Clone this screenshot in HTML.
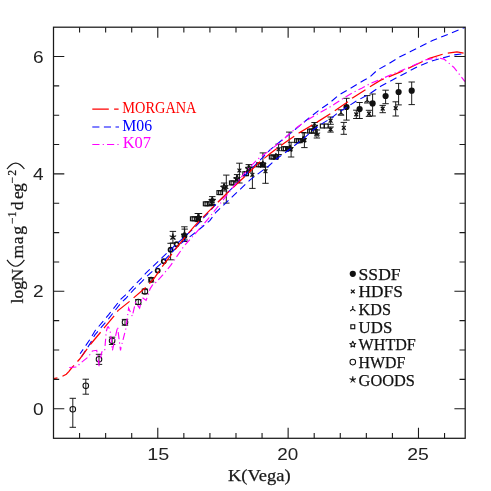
<!DOCTYPE html>
<html><head><meta charset="utf-8"><title>K-band number counts</title>
<style>
html,body{margin:0;padding:0;background:#fff;}
body{width:491px;height:491px;overflow:hidden;font-family:"Liberation Sans",sans-serif;}
svg{display:block;will-change:transform;}
</style></head><body>
<svg width="491" height="491" viewBox="0 0 491 491">
<rect width="491" height="491" fill="#ffffff"/>
<path d="M197.8 213.5V221.6M194.6 213.5H201.0M194.6 221.6H201.0" stroke="#111" stroke-width="0.95" fill="none"/>
<path d="M199.0 213.5V221.6M195.8 213.5H202.2M195.8 221.6H202.2" stroke="#111" stroke-width="0.95" fill="none"/>
<path d="M212.3 196.6V205.5M209.1 196.6H215.5M209.1 205.5H215.5" stroke="#111" stroke-width="0.95" fill="none"/>
<path d="M212.0 199.5V204.5M208.8 199.5H215.2M208.8 204.5H215.2" stroke="#111" stroke-width="0.95" fill="none"/>
<path d="M224.1 183.0V191.0M220.9 183.0H227.3M220.9 191.0H227.3" stroke="#111" stroke-width="0.95" fill="none"/>
<path d="M237.1 174.6V182.0M233.9 174.6H240.3M233.9 182.0H240.3" stroke="#111" stroke-width="0.95" fill="none"/>
<path d="M248.8 164.6V172.0M245.6 164.6H252.0M245.6 172.0H252.0" stroke="#111" stroke-width="0.95" fill="none"/>
<path d="M262.9 152.9V166.0M259.7 152.9H266.1M259.7 166.0H266.1" stroke="#111" stroke-width="0.95" fill="none"/>
<path d="M289.2 132.1V150.0M286.0 132.1H292.4M286.0 150.0H292.4" stroke="#111" stroke-width="0.95" fill="none"/>
<path d="M291.1 142.3V157.0M287.9 142.3H294.3M287.9 157.0H294.3" stroke="#111" stroke-width="0.95" fill="none"/>
<path d="M303.0 132.5V141.0M299.8 132.5H306.2M299.8 141.0H306.2" stroke="#111" stroke-width="0.95" fill="none"/>
<path d="M314.6 122.5V129.5M311.4 122.5H317.8M311.4 129.5H317.8" stroke="#111" stroke-width="0.95" fill="none"/>
<path d="M316.9 130.0V138.0M313.7 130.0H320.1M313.7 138.0H320.1" stroke="#111" stroke-width="0.95" fill="none"/>
<path d="M72.8 398.3V427.3M69.6 398.3H76.0M69.6 427.3H76.0" stroke="#111" stroke-width="0.95" fill="none"/>
<circle cx="72.8" cy="409.2" r="2.8" fill="none" stroke="#111" stroke-width="1.05"/>
<path d="M85.8 379.2V394.2M82.6 379.2H89.0M82.6 394.2H89.0" stroke="#111" stroke-width="0.95" fill="none"/>
<circle cx="85.8" cy="385.8" r="2.8" fill="none" stroke="#111" stroke-width="1.05"/>
<path d="M99.0 354.3V364.4M95.8 354.3H102.2M95.8 364.4H102.2" stroke="#111" stroke-width="0.95" fill="none"/>
<circle cx="99.0" cy="359.2" r="2.8" fill="none" stroke="#111" stroke-width="1.05"/>
<path d="M112.1 337.2V344.5M108.9 337.2H115.3M108.9 344.5H115.3" stroke="#111" stroke-width="0.95" fill="none"/>
<circle cx="112.1" cy="340.8" r="2.8" fill="none" stroke="#111" stroke-width="1.05"/>
<path d="M138.3 299.6V304.4M135.1 299.6H141.5M135.1 304.4H141.5" stroke="#111" stroke-width="0.95" fill="none"/>
<circle cx="138.3" cy="302.0" r="2.8" fill="none" stroke="#111" stroke-width="1.05"/>
<path d="M144.9 289.2V293.6M141.7 289.2H148.1M141.7 293.6H148.1" stroke="#111" stroke-width="0.95" fill="none"/>
<circle cx="144.9" cy="291.4" r="2.8" fill="none" stroke="#111" stroke-width="1.05"/>
<path d="M151.1 277.6V282.0M147.9 277.6H154.3M147.9 282.0H154.3" stroke="#111" stroke-width="0.95" fill="none"/>
<circle cx="151.1" cy="279.8" r="2.1" fill="none" stroke="#111" stroke-width="1.7"/>
<circle cx="157.7" cy="270.6" r="2.1" fill="none" stroke="#111" stroke-width="1.7"/>
<circle cx="163.8" cy="261.3" r="2.1" fill="none" stroke="#111" stroke-width="1.7"/>
<path d="M170.6 243.3V259.8M167.4 243.3H173.8M167.4 259.8H173.8" stroke="#111" stroke-width="0.95" fill="none"/>
<circle cx="170.6" cy="249.7" r="2.1" fill="none" stroke="#111" stroke-width="1.7"/>
<circle cx="176.6" cy="244.2" r="2.1" fill="none" stroke="#111" stroke-width="1.7"/>
<path d="M125.0 319.4V325.2M121.8 319.4H128.2M121.8 325.2H128.2" stroke="#111" stroke-width="0.95" fill="none"/>
<circle cx="125.0" cy="322.3" r="2.8" fill="none" stroke="#111" stroke-width="1.05"/>
<path d="M172.9 231.4V243.0M169.7 231.4H176.1M169.7 243.0H176.1" stroke="#111" stroke-width="0.95" fill="none"/>
<path d="M172.90 233.50L173.34 236.29L176.13 235.85L173.61 237.13L174.90 239.65L172.90 237.65L170.90 239.65L172.19 237.13L169.67 235.85L172.46 236.29Z" stroke="#111" stroke-width="0.6" fill="#111"/>
<path d="M172.90 237.50L172.90 234.50M172.90 237.50L170.29 239.40M172.90 237.50L175.51 239.40" stroke="#111" stroke-width="1.15" fill="none"/>
<circle cx="184.4" cy="236.0" r="2.1" fill="none" stroke="#111" stroke-width="1.7"/>
<path d="M184.4 226.8V241.5M181.2 226.8H187.6M181.2 241.5H187.6" stroke="#111" stroke-width="0.95" fill="none"/>
<path d="M184.40 231.90L185.28 233.79L187.35 234.04L185.83 235.46L186.22 237.51L184.40 236.50L182.58 237.51L182.97 235.46L181.45 234.04L183.52 233.79Z" stroke="#111" stroke-width="1.1" fill="none" stroke-linejoin="round"/>
<path d="M184.7 229.1V240.0M181.5 229.1H187.9M181.5 240.0H187.9" stroke="#111" stroke-width="0.95" fill="none"/>
<path d="M184.70 232.10L185.14 234.89L187.93 234.45L185.41 235.73L186.70 238.25L184.70 236.25L182.70 238.25L183.99 235.73L181.47 234.45L184.26 234.89Z" stroke="#111" stroke-width="0.6" fill="#111"/>
<rect x="190.45" y="216.85" width="3.9" height="3.9" fill="none" stroke="#111" stroke-width="1.15"/>
<rect x="192.15" y="216.85" width="3.9" height="3.9" fill="none" stroke="#111" stroke-width="1.15"/>
<rect x="196.25" y="216.85" width="3.9" height="3.9" fill="none" stroke="#111" stroke-width="1.15"/>
<path d="M198.60 214.50L199.48 216.39L201.55 216.64L200.03 218.06L200.42 220.11L198.60 219.10L196.78 220.11L197.17 218.06L195.65 216.64L197.72 216.39Z" stroke="#111" stroke-width="1.1" fill="none" stroke-linejoin="round"/>
<path d="M198.10 214.80L198.54 217.59L201.33 217.15L198.81 218.43L200.10 220.95L198.10 218.95L196.10 220.95L197.39 218.43L194.87 217.15L197.66 217.59Z" stroke="#111" stroke-width="0.6" fill="#111"/>
<rect x="203.35" y="201.85" width="3.9" height="3.9" fill="none" stroke="#111" stroke-width="1.15"/>
<rect x="205.05" y="201.85" width="3.9" height="3.9" fill="none" stroke="#111" stroke-width="1.15"/>
<rect x="207.65" y="201.85" width="3.9" height="3.9" fill="none" stroke="#111" stroke-width="1.15"/>
<path d="M212.40 197.20L213.28 199.09L215.35 199.34L213.83 200.76L214.22 202.81L212.40 201.80L210.58 202.81L210.97 200.76L209.45 199.34L211.52 199.09Z" stroke="#111" stroke-width="1.1" fill="none" stroke-linejoin="round"/>
<path d="M211.90 197.50L212.34 200.29L215.13 199.85L212.61 201.13L213.90 203.65L211.90 201.65L209.90 203.65L211.19 201.13L208.67 199.85L211.46 200.29Z" stroke="#111" stroke-width="0.6" fill="#111"/>
<rect x="216.95" y="190.65" width="3.9" height="3.9" fill="none" stroke="#111" stroke-width="1.15"/>
<rect x="218.65" y="190.65" width="3.9" height="3.9" fill="none" stroke="#111" stroke-width="1.15"/>
<path d="M224.10 183.80L224.98 185.69L227.05 185.94L225.53 187.36L225.92 189.41L224.10 188.40L222.28 189.41L222.67 187.36L221.15 185.94L223.22 185.69Z" stroke="#111" stroke-width="1.1" fill="none" stroke-linejoin="round"/>
<path d="M223.60 184.10L224.04 186.89L226.83 186.45L224.31 187.73L225.60 190.25L223.60 188.25L221.60 190.25L222.89 187.73L220.37 186.45L223.16 186.89Z" stroke="#111" stroke-width="0.6" fill="#111"/>
<rect x="229.45" y="180.95" width="3.9" height="3.9" fill="none" stroke="#111" stroke-width="1.15"/>
<rect x="231.05" y="180.95" width="3.9" height="3.9" fill="none" stroke="#111" stroke-width="1.15"/>
<path d="M237.10 175.30L237.98 177.19L240.05 177.44L238.53 178.86L238.92 180.91L237.10 179.90L235.28 180.91L235.67 178.86L234.15 177.44L236.22 177.19Z" stroke="#111" stroke-width="1.1" fill="none" stroke-linejoin="round"/>
<path d="M236.60 175.60L237.04 178.39L239.83 177.95L237.31 179.23L238.60 181.75L236.60 179.75L234.60 181.75L235.89 179.23L233.37 177.95L236.16 178.39Z" stroke="#111" stroke-width="0.6" fill="#111"/>
<rect x="242.85" y="171.75" width="3.9" height="3.9" fill="none" stroke="#111" stroke-width="1.15"/>
<rect x="244.55" y="171.75" width="3.9" height="3.9" fill="none" stroke="#111" stroke-width="1.15"/>
<path d="M248.80 165.10L249.68 166.99L251.75 167.24L250.23 168.66L250.62 170.71L248.80 169.70L246.98 170.71L247.37 168.66L245.85 167.24L247.92 166.99Z" stroke="#111" stroke-width="1.1" fill="none" stroke-linejoin="round"/>
<path d="M248.30 165.40L248.74 168.19L251.53 167.75L249.01 169.03L250.30 171.55L248.30 169.55L246.30 171.55L247.59 169.03L245.07 167.75L247.86 168.19Z" stroke="#111" stroke-width="0.6" fill="#111"/>
<rect x="256.55" y="162.85" width="3.9" height="3.9" fill="none" stroke="#111" stroke-width="1.15"/>
<rect x="258.25" y="162.85" width="3.9" height="3.9" fill="none" stroke="#111" stroke-width="1.15"/>
<rect x="261.25" y="162.85" width="3.9" height="3.9" fill="none" stroke="#111" stroke-width="1.15"/>
<path d="M262.90 161.20L263.78 163.09L265.85 163.34L264.33 164.76L264.72 166.81L262.90 165.80L261.08 166.81L261.47 164.76L259.95 163.34L262.02 163.09Z" stroke="#111" stroke-width="1.1" fill="none" stroke-linejoin="round"/>
<path d="M262.40 161.50L262.84 164.29L265.63 163.85L263.11 165.13L264.40 167.65L262.40 165.65L260.40 167.65L261.69 165.13L259.17 163.85L261.96 164.29Z" stroke="#111" stroke-width="0.6" fill="#111"/>
<rect x="269.35" y="155.05" width="3.9" height="3.9" fill="none" stroke="#111" stroke-width="1.15"/>
<rect x="271.05" y="155.05" width="3.9" height="3.9" fill="none" stroke="#111" stroke-width="1.15"/>
<rect x="274.25" y="155.05" width="3.9" height="3.9" fill="none" stroke="#111" stroke-width="1.15"/>
<path d="M276.00 153.40L276.88 155.29L278.95 155.54L277.43 156.96L277.82 159.01L276.00 158.00L274.18 159.01L274.57 156.96L273.05 155.54L275.12 155.29Z" stroke="#111" stroke-width="1.1" fill="none" stroke-linejoin="round"/>
<path d="M275.50 153.70L275.94 156.49L278.73 156.05L276.21 157.33L277.50 159.85L275.50 157.85L273.50 159.85L274.79 157.33L272.27 156.05L275.06 156.49Z" stroke="#111" stroke-width="0.6" fill="#111"/>
<rect x="281.65" y="146.75" width="3.9" height="3.9" fill="none" stroke="#111" stroke-width="1.15"/>
<rect x="283.35" y="146.75" width="3.9" height="3.9" fill="none" stroke="#111" stroke-width="1.15"/>
<rect x="286.45" y="146.75" width="3.9" height="3.9" fill="none" stroke="#111" stroke-width="1.15"/>
<path d="M290.20 145.30L291.08 147.19L293.15 147.44L291.63 148.86L292.02 150.91L290.20 149.90L288.38 150.91L288.77 148.86L287.25 147.44L289.32 147.19Z" stroke="#111" stroke-width="1.1" fill="none" stroke-linejoin="round"/>
<path d="M289.70 145.60L290.14 148.39L292.93 147.95L290.41 149.23L291.70 151.75L289.70 149.75L287.70 151.75L288.99 149.23L286.47 147.95L289.26 148.39Z" stroke="#111" stroke-width="0.6" fill="#111"/>
<rect x="294.65" y="138.75" width="3.9" height="3.9" fill="none" stroke="#111" stroke-width="1.15"/>
<rect x="296.35" y="138.75" width="3.9" height="3.9" fill="none" stroke="#111" stroke-width="1.15"/>
<rect x="298.25" y="138.75" width="3.9" height="3.9" fill="none" stroke="#111" stroke-width="1.15"/>
<path d="M303.30 136.40L304.18 138.29L306.25 138.54L304.73 139.96L305.12 142.01L303.30 141.00L301.48 142.01L301.87 139.96L300.35 138.54L302.42 138.29Z" stroke="#111" stroke-width="1.1" fill="none" stroke-linejoin="round"/>
<path d="M302.80 136.70L303.24 139.49L306.03 139.05L303.51 140.33L304.80 142.85L302.80 140.85L300.80 142.85L302.09 140.33L299.57 139.05L302.36 139.49Z" stroke="#111" stroke-width="0.6" fill="#111"/>
<rect x="307.65" y="129.15" width="3.9" height="3.9" fill="none" stroke="#111" stroke-width="1.15"/>
<rect x="309.35" y="129.15" width="3.9" height="3.9" fill="none" stroke="#111" stroke-width="1.15"/>
<rect x="311.45" y="129.15" width="3.9" height="3.9" fill="none" stroke="#111" stroke-width="1.15"/>
<path d="M314.60 123.10L315.48 124.99L317.55 125.24L316.03 126.66L316.42 128.71L314.60 127.70L312.78 128.71L313.17 126.66L311.65 125.24L313.72 124.99Z" stroke="#111" stroke-width="1.1" fill="none" stroke-linejoin="round"/>
<path d="M314.10 123.40L314.54 126.19L317.33 125.75L314.81 127.03L316.10 129.55L314.10 127.55L312.10 129.55L313.39 127.03L310.87 125.75L313.66 126.19Z" stroke="#111" stroke-width="0.6" fill="#111"/>
<path d="M226.3 175.1V203.1M223.1 175.1H229.5M223.1 203.1H229.5" stroke="#111" stroke-width="0.95" fill="none"/>
<path d="M224.4 185.1L228.2 188.9M224.4 188.9L228.2 185.1" stroke="#111" stroke-width="1.25" fill="none"/>
<path d="M239.4 163.2V183.0M236.2 163.2H242.6M236.2 183.0H242.6" stroke="#111" stroke-width="0.95" fill="none"/>
<path d="M237.5 168.6L241.3 172.4M237.5 172.4L241.3 168.6" stroke="#111" stroke-width="1.25" fill="none"/>
<path d="M252.4 167.0V188.4M249.2 167.0H255.6M249.2 188.4H255.6" stroke="#111" stroke-width="0.95" fill="none"/>
<path d="M250.5 172.9L254.3 176.7M250.5 176.7L254.3 172.9" stroke="#111" stroke-width="1.25" fill="none"/>
<path d="M265.5 167.0V183.3M262.3 167.0H268.7M262.3 183.3H268.7" stroke="#111" stroke-width="0.95" fill="none"/>
<path d="M263.6 169.3L267.4 173.1M263.6 173.1L267.4 169.3" stroke="#111" stroke-width="1.25" fill="none"/>
<path d="M278.6 144.2V154.5M275.4 144.2H281.8M275.4 154.5H281.8" stroke="#111" stroke-width="0.95" fill="none"/>
<path d="M276.7 147.3L280.5 151.1M276.7 151.1L280.5 147.3" stroke="#111" stroke-width="1.25" fill="none"/>
<path d="M304.4 132.9V147.6M301.2 132.9H307.6M301.2 147.6H307.6" stroke="#111" stroke-width="0.95" fill="none"/>
<path d="M302.5 138.3L306.3 142.1M302.5 142.1L306.3 138.3" stroke="#111" stroke-width="1.25" fill="none"/>
<path d="M330.6 117.0V124.3M327.4 117.0H333.8M327.4 124.3H333.8" stroke="#111" stroke-width="0.95" fill="none"/>
<path d="M328.7 118.8L332.5 122.6M328.7 122.6L332.5 118.8" stroke="#111" stroke-width="1.25" fill="none"/>
<path d="M330.6 127.0V132.1M327.4 127.0H333.8M327.4 132.1H333.8" stroke="#111" stroke-width="0.95" fill="none"/>
<path d="M328.7 127.5L332.5 131.3M328.7 131.3L332.5 127.5" stroke="#111" stroke-width="1.25" fill="none"/>
<path d="M343.8 122.4V134.3M340.6 122.4H347.0M340.6 134.3H347.0" stroke="#111" stroke-width="0.95" fill="none"/>
<path d="M341.9 125.9L345.7 129.7M341.9 129.7L345.7 125.9" stroke="#111" stroke-width="1.25" fill="none"/>
<path d="M356.3 110.2V118.5M353.1 110.2H359.5M353.1 118.5H359.5" stroke="#111" stroke-width="0.95" fill="none"/>
<path d="M354.4 112.5L358.2 116.3M354.4 116.3L358.2 112.5" stroke="#111" stroke-width="1.25" fill="none"/>
<path d="M369.0 110.3V116.4M365.8 110.3H372.2M365.8 116.4H372.2" stroke="#111" stroke-width="0.95" fill="none"/>
<path d="M367.1 111.8L370.9 115.6M367.1 115.6L370.9 111.8" stroke="#111" stroke-width="1.25" fill="none"/>
<path d="M382.7 105.4V112.7M379.5 105.4H385.9M379.5 112.7H385.9" stroke="#111" stroke-width="0.95" fill="none"/>
<path d="M380.8 106.7L384.6 110.5M380.8 110.5L384.6 106.7" stroke="#111" stroke-width="1.25" fill="none"/>
<path d="M395.7 101.8V116.0M392.5 101.8H398.9M392.5 116.0H398.9" stroke="#111" stroke-width="0.95" fill="none"/>
<path d="M393.8 106.2L397.6 110.0M393.8 110.0L397.6 106.2" stroke="#111" stroke-width="1.25" fill="none"/>
<path d="M341.0 109.8V115.2M337.8 109.8H344.2M337.8 115.2H344.2" stroke="#111" stroke-width="0.95" fill="none"/>
<path d="M341.00 113.00L341.00 110.00M341.00 113.00L338.39 114.90M341.00 113.00L343.61 114.90" stroke="#111" stroke-width="1.15" fill="none"/>
<path d="M367.2 95.6V103.0M364.0 95.6H370.4M364.0 103.0H370.4" stroke="#111" stroke-width="0.95" fill="none"/>
<path d="M367.20 100.50L367.20 97.50M367.20 100.50L364.59 102.40M367.20 100.50L369.81 102.40" stroke="#111" stroke-width="1.15" fill="none"/>
<path d="M346.5 98.3V120.1M343.3 98.3H349.7M343.3 120.1H349.7" stroke="#111" stroke-width="0.95" fill="none"/>
<circle cx="346.5" cy="107.0" r="3.1" fill="#111"/>
<path d="M359.6 102.5V118.5M356.4 102.5H362.8M356.4 118.5H362.8" stroke="#111" stroke-width="0.95" fill="none"/>
<circle cx="359.6" cy="109.1" r="3.1" fill="#111"/>
<path d="M372.6 94.0V116.0M369.4 94.0H375.8M369.4 116.0H375.8" stroke="#111" stroke-width="0.95" fill="none"/>
<circle cx="372.6" cy="103.4" r="3.1" fill="#111"/>
<path d="M385.6 90.2V103.7M382.4 90.2H388.8M382.4 103.7H388.8" stroke="#111" stroke-width="0.95" fill="none"/>
<circle cx="385.6" cy="96.0" r="3.1" fill="#111"/>
<path d="M398.6 83.4V104.9M395.4 83.4H401.8M395.4 104.9H401.8" stroke="#111" stroke-width="0.95" fill="none"/>
<circle cx="398.6" cy="92.0" r="3.1" fill="#111"/>
<path d="M411.7 82.0V104.6M408.5 82.0H414.9M408.5 104.6H414.9" stroke="#111" stroke-width="0.95" fill="none"/>
<circle cx="411.7" cy="90.7" r="3.1" fill="#111"/>
<path d="M316.90 130.60L317.34 133.39L320.13 132.95L317.61 134.23L318.90 136.75L316.90 134.75L314.90 136.75L316.19 134.23L313.67 132.95L316.46 133.39Z" stroke="#111" stroke-width="0.6" fill="#111"/>
<path d="M316.90 133.60L316.90 130.60M316.90 133.60L314.29 135.50M316.90 133.60L319.51 135.50" stroke="#111" stroke-width="1.15" fill="none"/>
<rect x="320.35" y="124.05" width="3.9" height="3.9" fill="none" stroke="#111" stroke-width="1.15"/>
<rect x="324.35" y="124.05" width="3.9" height="3.9" fill="none" stroke="#111" stroke-width="1.15"/>
<path d="M80.1 353.8 L89.9 339.5 L94.9 331.0 L108.7 314.6 L120.9 299.2 L125.3 295.1 L133.1 286.6 L140.8 278.8 L146.3 272.7 L162.6 257.2 L178.9 241.8 L195.1 227.1 L209.8 211.3 L215.6 204.7 L231.9 188.3 L248.2 172.0 L262.6 157.6 L270.0 149.8 L295.1 129.5 L312.0 115.6 L321.1 108.7 L329.8 102.8 L338.7 95.1 L354.3 86.0 L363.5 80.5 L369.8 77.0 L377.4 70.0 L388.4 63.8 L399.4 57.1 L410.5 51.6 L421.5 46.1 L432.5 40.6 L465.0 27.4" fill="none" stroke="#0000ff" stroke-width="1.10" stroke-dasharray="7.1 4.5" stroke-dashoffset="1.7"/>
<path d="M81.5 356.8 L89.9 343.9 L94.9 334.9 L108.7 318.6 L121.3 302.5 L125.7 298.5 L133.5 289.9 L141.6 281.8 L146.3 276.8 L162.6 262.1 L178.9 245.0 L195.1 232.8 L209.8 220.6 L215.6 212.7 L231.9 197.2 L250.1 179.9 L259.7 172.6 L268.4 166.2 L276.7 158.8 L284.9 152.9 L304.2 138.1 L313.3 129.8 L322.5 123.4 L331.7 117.9 L336.9 113.5 L347.0 107.0 L357.1 100.6 L369.9 93.7 L380.7 86.2 L418.2 66.3 L432.6 60.7 L453.7 55.0 L465.0 53.4" fill="none" stroke="#0000ff" stroke-width="1.10" stroke-dasharray="7.1 4.5"/>
<path d="M53.5 378.6 L58.0 377.8 L62.2 376.4 L66.3 374.2 L69.0 371.4 L71.2 368.5 L79.3 359.5 L90.0 344.9 L100.6 332.2 L114.4 315.5 L118.0 310.6 L129.8 301.2 L145.7 287.4 L153.8 278.8 L162.2 266.7 L177.5 246.5 L186.7 235.2 L194.9 225.6 L210.7 209.4 L227.0 193.2 L240.0 181.0 L249.8 171.7 L258.3 163.1 L270.2 153.6 L283.7 143.4 L299.6 132.6 L317.9 121.6 L334.2 111.2 L348.8 101.1 L352.5 97.9 L366.2 89.2 L380.7 80.1 L400.0 72.1 L418.0 63.8 L429.3 58.3 L445.0 53.5 L457.0 51.8 L465.0 53.4" fill="none" stroke="#ff0000" stroke-width="1.25" stroke-dasharray="16 5.3" stroke-dashoffset="12"/>
<path d="M69.2 367.5 L77.1 367.0 L79.6 363.8 L88.1 357.1 L92.4 351.0 L96.7 350.3 L99.1 366.2 L101.4 353.5 L102.4 350.6 L104.7 350.4 L104.9 347.6 L106.3 331.3 L107.5 327.2 L108.3 326.8 L110.0 329.7 L112.4 350.4 L116.1 333.7 L117.7 326.8 L118.1 331.3 L120.5 350.4 L121.0 347.6 L125.8 328.8 L128.6 308.1 L132.3 316.3 L135.5 302.4 L139.6 308.1 L142.4 297.6 L146.1 300.4 L149.0 291.8 L150.2 288.6 L153.8 282.9 L156.2 282.4 L162.6 275.1 L170.7 265.4 L183.7 246.5 L193.7 235.3 L207.5 219.7 L224.9 197.7 L238.4 180.3 L249.2 168.0 L257.4 159.3 L263.8 154.7 L273.0 147.8 L281.2 141.4 L295.0 128.9 L306.9 120.2 L317.9 113.8 L327.1 108.7 L334.2 104.3 L343.3 98.3 L352.5 92.8 L361.7 88.2 L369.9 83.7 L380.0 79.6 L389.7 75.3 L404.3 69.3 L418.2 63.3 L424.4 60.0 L437.5 57.8 L444.0 59.1 L453.7 67.2 L465.0 81.6" fill="none" stroke="#ff00ff" stroke-width="1.15" stroke-dasharray="7.2 3.2 1.2 3.1"/>
<path d="M79.57 438.30V432.90M79.57 27.20V32.60M105.64 438.30V432.90M105.64 27.20V32.60M131.71 438.30V432.90M131.71 27.20V32.60M157.78 438.30V427.70M157.78 27.20V37.80M183.85 438.30V432.90M183.85 27.20V32.60M209.92 438.30V432.90M209.92 27.20V32.60M235.99 438.30V432.90M235.99 27.20V32.60M262.06 438.30V432.90M262.06 27.20V32.60M288.13 438.30V427.70M288.13 27.20V37.80M314.20 438.30V432.90M314.20 27.20V32.60M340.27 438.30V432.90M340.27 27.20V32.60M366.34 438.30V432.90M366.34 27.20V32.60M392.41 438.30V432.90M392.41 27.20V32.60M418.48 438.30V427.70M418.48 27.20V37.80M444.55 438.30V432.90M444.55 27.20V32.60M53.50 408.70H64.30M465.20 408.70H454.40M53.50 379.35H59.20M465.20 379.35H459.50M53.50 350.00H59.20M465.20 350.00H459.50M53.50 320.65H59.20M465.20 320.65H459.50M53.50 291.30H64.30M465.20 291.30H454.40M53.50 261.95H59.20M465.20 261.95H459.50M53.50 232.60H59.20M465.20 232.60H459.50M53.50 203.25H59.20M465.20 203.25H459.50M53.50 173.90H64.30M465.20 173.90H454.40M53.50 144.55H59.20M465.20 144.55H459.50M53.50 115.20H59.20M465.20 115.20H459.50M53.50 85.85H59.20M465.20 85.85H459.50M53.50 56.50H64.30M465.20 56.50H454.40" stroke="#1a1a1a" stroke-width="1.10" fill="none"/>
<rect x="53.50" y="27.20" width="411.70" height="411.10" fill="none" stroke="#1a1a1a" stroke-width="1.25"/>
<text x="158.2" y="460" text-anchor="middle" textLength="22.0" lengthAdjust="spacingAndGlyphs" font-family="Liberation Sans, sans-serif" font-size="16.3" fill="#222">15</text>
<text x="287.7" y="460" text-anchor="middle" textLength="21.0" lengthAdjust="spacingAndGlyphs" font-family="Liberation Sans, sans-serif" font-size="16.3" fill="#222">20</text>
<text x="418.1" y="460" text-anchor="middle" textLength="21.6" lengthAdjust="spacingAndGlyphs" font-family="Liberation Sans, sans-serif" font-size="16.3" fill="#222">25</text>
<text x="38.2" y="414.7" text-anchor="middle" textLength="10.6" lengthAdjust="spacingAndGlyphs" font-family="Liberation Sans, sans-serif" font-size="16.3" fill="#222">0</text>
<text x="38.2" y="297.3" text-anchor="middle" textLength="10.6" lengthAdjust="spacingAndGlyphs" font-family="Liberation Sans, sans-serif" font-size="16.3" fill="#222">2</text>
<text x="38.2" y="179.9" text-anchor="middle" textLength="10.6" lengthAdjust="spacingAndGlyphs" font-family="Liberation Sans, sans-serif" font-size="16.3" fill="#222">4</text>
<text x="38.2" y="62.5" text-anchor="middle" textLength="10.6" lengthAdjust="spacingAndGlyphs" font-family="Liberation Sans, sans-serif" font-size="16.3" fill="#222">6</text>
<text x="228.0" y="480.7" textLength="62.6" lengthAdjust="spacingAndGlyphs" font-size="17.4" font-family="Liberation Serif, serif" fill="#1a1a1a" stroke="#1a1a1a" stroke-width="0.25">K(Vega)</text>
<g transform="translate(22.6 303.2) rotate(-90)" font-family="Liberation Serif, serif" fill="#1a1a1a" stroke="#1a1a1a" stroke-width="0.25" font-size="17.6" text-anchor="middle">
<text x="2.15" y="0">l</text>
<text x="9.15" y="0">o</text>
<text x="17.80" y="0">g</text>
<text x="28.15" y="0">N</text>
<path d="M43.30 -15.6Q30.60 -6.9 43.30 1.8" fill="none" stroke="#1a1a1a" stroke-width="1.2"/>
<text x="51.45" y="0">m</text>
<text x="62.90" y="0">a</text>
<text x="72.85" y="0">g</text>
<text x="82.45" y="-6.6" font-size="11.6">−</text>
<text x="88.95" y="-6.6" font-size="11.6">1</text>
<text x="97.35" y="0">d</text>
<text x="108.05" y="0">e</text>
<text x="115.70" y="0">g</text>
<text x="122.95" y="-6.6" font-size="11.6">−</text>
<text x="130.25" y="-6.6" font-size="11.6">2</text>
<path d="M134.20 -15.6Q146.00 -6.9 134.20 1.8" fill="none" stroke="#1a1a1a" stroke-width="1.2"/>
</g>
<path d="M92.3 109.1H118.6" stroke="#ff0000" stroke-width="1.25" stroke-dasharray="16.5 5.3"/>
<path d="M92.3 127H119" stroke="#0000ff" stroke-width="1.15" stroke-dasharray="7.1 4.5"/>
<path d="M92.3 144.5H118.8" stroke="#ff00ff" stroke-width="1.1" stroke-dasharray="7.2 3.2 1.2 3.1"/>
<text x="122.3" y="112.7" textLength="74.2" lengthAdjust="spacingAndGlyphs" fill="#ff0000" font-family="Liberation Serif, serif" font-size="16.6">MORGANA</text>
<text x="122.3" y="130.5" textLength="29.9" lengthAdjust="spacingAndGlyphs" fill="#0000ff" font-family="Liberation Serif, serif" font-size="16.6">M06</text>
<text x="122.7" y="147.8" textLength="28.3" lengthAdjust="spacingAndGlyphs" fill="#ff00ff" font-family="Liberation Serif, serif" font-size="16.6">K07</text>
<text x="358.6" y="279.8" textLength="42.0" lengthAdjust="spacingAndGlyphs" font-family="Liberation Serif, serif" font-size="17.2" fill="#111" stroke="#111" stroke-width="0.25">SSDF</text>
<circle cx="352.8" cy="273.8" r="3.1" fill="#111"/>
<text x="358.6" y="297.4" textLength="44.2" lengthAdjust="spacingAndGlyphs" font-family="Liberation Serif, serif" font-size="17.2" fill="#111" stroke="#111" stroke-width="0.25">HDFS</text>
<path d="M350.9 289.6L354.7 293.3M350.9 293.3L354.7 289.6" stroke="#111" stroke-width="1.25" fill="none"/>
<text x="358.6" y="315.1" textLength="32.4" lengthAdjust="spacingAndGlyphs" font-family="Liberation Serif, serif" font-size="17.2" fill="#111" stroke="#111" stroke-width="0.25">KDS</text>
<path d="M352.80 309.10L352.80 306.10M352.80 309.10L350.19 311.00M352.80 309.10L355.41 311.00" stroke="#111" stroke-width="1.15" fill="none"/>
<text x="358.6" y="332.8" textLength="33.7" lengthAdjust="spacingAndGlyphs" font-family="Liberation Serif, serif" font-size="17.2" fill="#111" stroke="#111" stroke-width="0.25">UDS</text>
<rect x="350.85" y="324.80" width="3.9" height="3.9" fill="none" stroke="#111" stroke-width="1.15"/>
<text x="358.6" y="350.4" textLength="57.2" lengthAdjust="spacingAndGlyphs" font-family="Liberation Serif, serif" font-size="17.2" fill="#111" stroke="#111" stroke-width="0.25">WHTDF</text>
<path d="M352.80 341.30L353.68 343.19L355.75 343.44L354.23 344.86L354.62 346.91L352.80 345.90L350.98 346.91L351.37 344.86L349.85 343.44L351.92 343.19Z" stroke="#111" stroke-width="1.1" fill="none" stroke-linejoin="round"/>
<text x="358.6" y="368.1" textLength="46.7" lengthAdjust="spacingAndGlyphs" font-family="Liberation Serif, serif" font-size="17.2" fill="#111" stroke="#111" stroke-width="0.25">HWDF</text>
<circle cx="352.8" cy="362.1" r="2.8" fill="none" stroke="#111" stroke-width="1.05"/>
<text x="358.6" y="385.7" textLength="56.3" lengthAdjust="spacingAndGlyphs" font-family="Liberation Serif, serif" font-size="17.2" fill="#111" stroke="#111" stroke-width="0.25">GOODS</text>
<path d="M352.80 376.30L353.24 379.09L356.03 378.65L353.51 379.93L354.80 382.45L352.80 380.45L350.80 382.45L352.09 379.93L349.57 378.65L352.36 379.09Z" stroke="#111" stroke-width="0.6" fill="#111"/>
</svg>
</body></html>
